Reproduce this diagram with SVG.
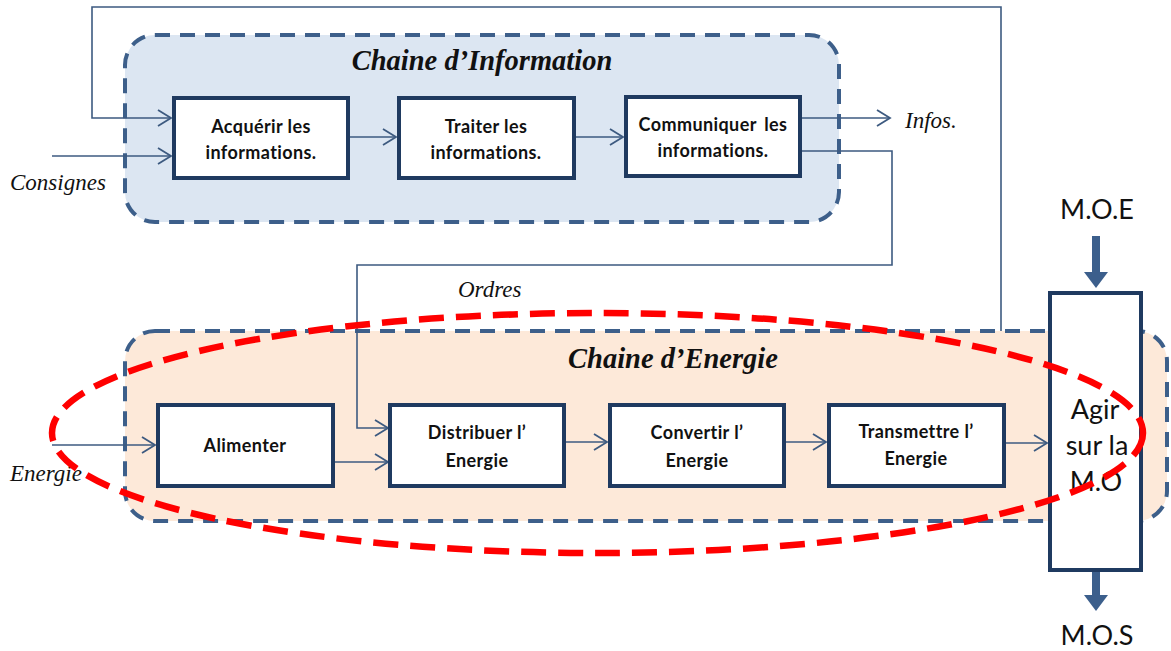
<svg xmlns="http://www.w3.org/2000/svg" width="1171" height="651" viewBox="0 0 1171 651">
  <style>
    .frame { stroke: #3d5f8a; stroke-width: 4; stroke-dasharray: 15 10; }
    .box { fill: #ffffff; stroke: #1f3a60; stroke-width: 4; }
    .wire { fill: none; stroke: #3d5a80; stroke-width: 1.6; }
    .fat { fill: none; stroke: #3c5f8c; stroke-width: 8; }
    .lbl { font-family: Lato, "Open Sans", "Liberation Sans", sans-serif; font-weight: bold; font-size: 18px; letter-spacing: 0.4px; fill: #111; text-anchor: middle; }
    .title { font-family: "Liberation Serif", serif; font-weight: bold; font-style: italic; font-size: 28.5px; fill: #111; text-anchor: middle; }
    .io { font-family: "Liberation Serif", serif; font-style: italic; font-size: 23px; fill: #111; }
    .big { font-family: Lato, "Open Sans", "Liberation Sans", sans-serif; font-size: 27px; fill: #111; text-anchor: middle; }
  </style>
  <defs>
    <marker id="open" markerUnits="userSpaceOnUse" markerWidth="16" markerHeight="18" refX="14" refY="9" orient="auto">
      <path d="M1,1 L14,9 L1,17" fill="none" stroke="#3d5a80" stroke-width="1.8"/>
    </marker>
    <marker id="solid" markerUnits="userSpaceOnUse" markerWidth="18" markerHeight="26" refX="2" refY="13" orient="auto">
      <path d="M0,1 L16,13 L0,25 Z" fill="#3c5f8c"/>
    </marker>
  </defs>

  <!-- chain containers -->
  <g id="chaine-information">
    <rect class="frame" x="125" y="35" width="714" height="187" rx="30" fill="#dce6f2"/>
    <text class="title" x="482" y="70">Chaine d’Information</text>
  </g>
  <g id="chaine-energie">
    <rect class="frame" x="125" y="331" width="1042" height="190" rx="30" fill="#fde9d9"/>
    <text class="title" x="673" y="368">Chaine d’Energie</text>
  </g>

  <!-- connectors -->
  <g id="connectors">
    <!-- feedback from the energy chain to acquisition -->
    <polyline class="wire" points="1001,331 1001,7 92,7 92,118 171,118" marker-end="url(#open)"/>
    <line class="wire" x1="52" y1="156" x2="171" y2="156" marker-end="url(#open)"/>
    <line class="wire" x1="348" y1="137" x2="396" y2="137" marker-end="url(#open)"/>
    <line class="wire" x1="574" y1="137" x2="623" y2="137" marker-end="url(#open)"/>
    <line class="wire" x1="800" y1="118" x2="890" y2="118" marker-end="url(#open)"/>
    <!-- orders -->
    <polyline class="wire" points="800,151 892,151 892,265 357,265 357,428 388,428" marker-end="url(#open)"/>
    <line class="wire" x1="52" y1="445" x2="155" y2="445" marker-end="url(#open)"/>
    <polyline class="wire" points="333,462 388,462" marker-end="url(#open)"/>
    <line class="wire" x1="564" y1="442" x2="607" y2="442" marker-end="url(#open)"/>
    <line class="wire" x1="784" y1="442" x2="826" y2="442" marker-end="url(#open)"/>
    <line class="wire" x1="1004" y1="443" x2="1047" y2="443" marker-end="url(#open)"/>
    <!-- matter flow -->
    <line class="fat" x1="1096" y1="236" x2="1096" y2="274" marker-end="url(#solid)"/>
    <line class="fat" x1="1096" y1="572" x2="1096" y2="597" marker-end="url(#solid)"/>
  </g>

  <!-- information chain -->
  <g id="acquerir">
    <rect class="box" x="174" y="98" width="174" height="80"/>
    <text class="lbl" x="261" y="133">Acquérir les</text>
    <text class="lbl" x="261" y="159">informations.</text>
  </g>
  <g id="traiter">
    <rect class="box" x="399" y="98" width="175" height="80"/>
    <text class="lbl" x="486" y="133">Traiter les</text>
    <text class="lbl" x="486" y="159">informations.</text>
  </g>
  <g id="communiquer">
    <rect class="box" x="626" y="97" width="174" height="79"/>
    <text class="lbl" x="713" y="131" word-spacing="3">Communiquer les</text>
    <text class="lbl" x="713" y="157">informations.</text>
  </g>

  <!-- energy chain -->
  <g id="alimenter">
    <rect class="box" x="158" y="405" width="175" height="81"/>
    <text class="lbl" x="245" y="452">Alimenter</text>
  </g>
  <g id="distribuer">
    <rect class="box" x="390" y="405" width="174" height="81"/>
    <text class="lbl" x="477" y="439">Distribuer l’</text>
    <text class="lbl" x="477" y="467">Energie</text>
  </g>
  <g id="convertir">
    <rect class="box" x="610" y="405" width="174" height="81"/>
    <text class="lbl" x="697" y="439">Convertir l’</text>
    <text class="lbl" x="697" y="467">Energie</text>
  </g>
  <g id="transmettre">
    <rect class="box" x="829" y="405" width="175" height="81"/>
    <text class="lbl" x="916" y="438">Transmettre l’</text>
    <text class="lbl" x="916" y="465">Energie</text>
  </g>
  <g id="agir">
    <rect class="box" x="1050" y="293" width="91" height="277"/>
    <text class="big" x="1095" y="419">Agir</text>
    <text class="big" x="1097" y="455">sur la</text>
    <text class="big" x="1096" y="491">M.O</text>
  </g>

  <!-- flow labels -->
  <g id="labels">
    <text class="io" x="10" y="190">Consignes</text>
    <text class="io" x="905" y="128">Infos.</text>
    <text class="io" x="458" y="297">Ordres</text>
    <text class="io" x="10" y="481">Energie</text>
    <text class="big" x="1097" y="219" font-size="25">M.O.E</text>
    <text class="big" x="1097" y="645" font-size="25">M.O.S</text>
  </g>

  <!-- highlight around the energy chain -->
  <ellipse cx="597.5" cy="433" rx="545.5" ry="120" fill="none" stroke="#ff0000" stroke-width="6.5" stroke-dasharray="25 12"/>
</svg>
